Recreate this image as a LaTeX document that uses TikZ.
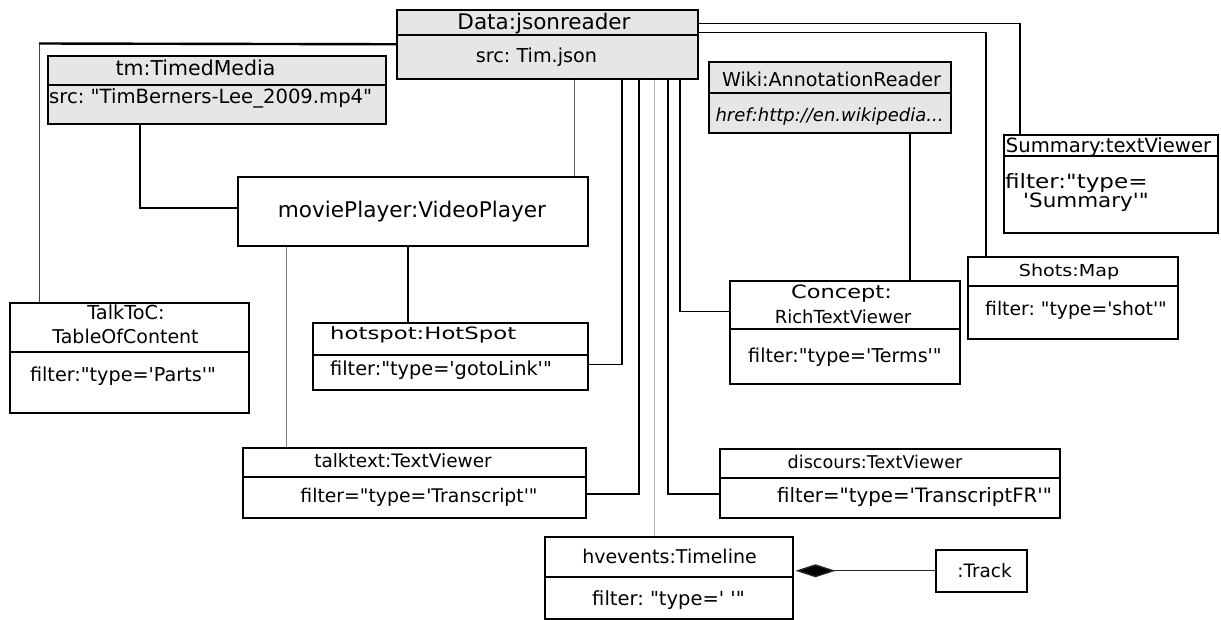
\documentclass[tikz,border=0pt]{standalone}
\usepackage{fontspec}
\usepackage{graphicx}
\setmainfont{DejaVu Sans}[Ligatures=TeXOff]
\usetikzlibrary{arrows.meta}
\definecolor{boxgray}{RGB}{230,230,230}
% text of a given size, optionally widened horizontally
\newcommand\tx[3]{\scalebox{#2}[1]{\fontsize{#1}{#1}\selectfont\frenchspacing #3}}
\begin{document}
\begin{tikzpicture}[x=1pt,y=-1pt,
  objbox/.style={draw=black, line width=1.5pt, inner sep=0pt, anchor=north west},
  divider/.style={draw=black, line width=1.5pt},
  lbl/.style={anchor=base, inner sep=0pt},
  lblw/.style={anchor=base west, inner sep=0pt},
  heavy/.style={draw=black, line width=2.4pt},
  medium/.style={draw=black, line width=1.3pt},
  grayline/.style={draw=black!60, line width=1pt},
  paleline/.style={draw=black!50, line width=0.9pt},
  faint/.style={draw=black!30, line width=0.9pt}]
\useasboundingbox (0,0) rectangle (1221,619);

% ---- object boxes ----
\node[objbox, fill=boxgray, minimum width=301pt, minimum height=69pt] (data) at (396,9) {};
\node[objbox, fill=boxgray, minimum width=338pt, minimum height=68pt] (tm) at (47,55) {};
\node[objbox, minimum width=350pt, minimum height=69pt] (mp) at (237,176) {};
\node[objbox, minimum width=239pt, minimum height=110pt] (toc) at (9,302) {};
\node[objbox, minimum width=275pt, minimum height=67pt] (hot) at (312,322) {};
\node[objbox, minimum width=343pt, minimum height=70pt] (talk) at (242,447) {};
\node[objbox, minimum width=340pt, minimum height=69pt] (disc) at (719,448) {};
\node[objbox, minimum width=248pt, minimum height=82pt] (hv) at (544,536) {};
\node[objbox, minimum width=91pt, minimum height=42pt] (track) at (935,549) {};
\node[objbox, fill=boxgray, minimum width=242pt, minimum height=71pt] (wiki) at (708,61) {};
\node[objbox, minimum width=214pt, minimum height=98pt] (sum) at (1003,134) {};
\node[objbox, minimum width=210pt, minimum height=82pt] (shots) at (967,256) {};
\node[objbox, minimum width=230pt, minimum height=103pt] (concept) at (729,280) {};

% ---- compartment dividers ----
\draw[divider] ([yshift=-26pt]data.north west) -- ([yshift=-26pt]data.north east);
\draw[divider] ([yshift=-30pt]tm.north west) -- ([yshift=-30pt]tm.north east);
\draw[divider] ([yshift=-50pt]toc.north west) -- ([yshift=-50pt]toc.north east);
\draw[divider, line width=2.5pt] ([yshift=-33pt]hot.north west) -- ([yshift=-33pt]hot.north east);
\draw[divider] ([yshift=-30pt]talk.north west) -- ([yshift=-30pt]talk.north east);
\draw[divider] ([yshift=-30pt]disc.north west) -- ([yshift=-30pt]disc.north east);
\draw[divider] ([yshift=-41pt]hv.north west) -- ([yshift=-41pt]hv.north east);
\draw[divider] ([yshift=-32pt]wiki.north west) -- ([yshift=-32pt]wiki.north east);
\draw[divider] ([yshift=-22pt]sum.north west) -- ([yshift=-22pt]sum.north east);
\draw[divider] ([yshift=-30pt]shots.north west) -- ([yshift=-30pt]shots.north east);
\draw[divider] ([yshift=-49pt]concept.north west) -- ([yshift=-49pt]concept.north east);

% ---- labels ----
\node[lbl] (dataT) at (544,29) {\tx{21.5}{1}{Data:jsonreader}};
\node[lbl] (dataS) at (536.5,62) {\tx{19.2}{1}{src: Tim.json}};
\node[lbl] (tmT) at (195.5,75) {\tx{20.5}{1}{tm:TimedMedia}};
\node[lblw] (tmS) at (49,103) {\tx{19.6}{1}{src: "TimBerners-Lee\_2009.mp4"}};
\node[lbl] (mpT) at (412,217) {\tx{21.6}{1}{moviePlayer:VideoPlayer}};
\node[lbl] (tocA) at (126,319) {\tx{19.3}{1}{TalkToC:}};
\node[lbl] (tocB) at (125.5,343) {\tx{19}{1}{TableOfContent}};
\node[lbl] (tocF) at (123,381) {\tx{19.2}{1}{filter:"type='Parts'"}};
\node[lblw] (hotT) at (330,339) {\tx{17}{1.34}{hotspot:HotSpot}};
\node[lblw] (hotF) at (330,375) {\tx{19.3}{1}{filter:"type='gotoLink'"}};
\node[lbl] (talkT) at (403,467) {\tx{18.5}{1}{talktext:TextViewer}};
\node[lbl] (talkF) at (419,502) {\tx{18.8}{1}{filter="type='Transcript'"}};
\node[lbl] (discT) at (875,468) {\tx{17.6}{1}{discours:TextViewer}};
\node[lbl] (discF) at (914.5,502) {\tx{19.8}{1}{filter="type='TranscriptFR'"}};
\node[lbl] (hvT) at (669.5,563) {\tx{19}{1}{hvevents:Timeline}};
\node[lbl] (hvF) at (668.5,605) {\tx{19.5}{1}{filter: "type=' '"}};
\node[lbl] (trackT) at (984.5,577) {\tx{18.4}{1}{:Track}};
\node[lbl] (wikiT) at (831.5,86) {\tx{19.1}{1}{Wiki:AnnotationReader}};
\node[lbl] (wikiH) at (829.5,121) {\tx{18}{1}{\itshape href:http://en.wikipedia...}};
\node[lbl] (sumT) at (1108.5,152) {\tx{19.6}{1}{Summary:textViewer}};
\node[lblw] (sumA) at (1005,188) {\tx{19.7}{1.17}{filter:"type=}};
\node[lblw] (sumB) at (1023,207) {\tx{19.7}{1.09}{'Summary'"}};
\node[lbl] (shotsT) at (1069,276) {\tx{16.5}{1.16}{Shots:Map}};
\node[lbl] (shotsF) at (1076,315) {\tx{18.8}{1}{filter: "type='shot'"}};
\node[lbl] (conA) at (841.5,298) {\tx{18.3}{1.23}{Concept:}};
\node[lbl] (conB) at (843,323) {\tx{18}{1}{RichTextViewer}};
\node[lbl] (conF) at (845,362) {\tx{19.1}{1}{filter:"type='Terms'"}};

% ---- connector columns ----
\coordinate (k140) at (140,0);
\coordinate (k286) at (286,0);
\coordinate (k408) at (408,0);
\coordinate (k574) at (574,0);
\coordinate (k622) at (622,0);
\coordinate (k639) at (639,0);
\coordinate (k654) at (654,0);
\coordinate (k668) at (668,0);
\coordinate (k680) at (680,0);
\coordinate (k910) at (910,0);
\coordinate (k986) at (986,0);
\coordinate (k1020) at (1020,0);
\coordinate (tocbend) at (39,43.5);

% ---- connectors ----
\draw[heavy] (data.west) -- (tocbend);
\draw[draw=black!75, line width=1pt] (tocbend) -- (toc.north -| tocbend);
\draw[heavy] (tm.south -| k140) |- ([yshift=3.5pt]mp.west);
\draw[grayline] (data.south -| k574) -- (mp.north -| k574);
\draw[paleline] (mp.south -| k286) -- (talk.north -| k286);
\draw[medium] (mp.south -| k408) -- (hot.north -| k408);
\draw[medium] (data.south -| k622) |- ([yshift=-8.5pt]hot.east);
\draw[heavy] (data.south -| k639) |- ([yshift=-11pt]talk.east);
\draw[faint] (data.south -| k654) -- (hv.north -| k654);
\draw[heavy] (data.south -| k668) |- ([yshift=-11pt]disc.west);
\draw[medium] (data.south -| k680) |- ([yshift=20.5pt]concept.west);
\draw[medium] (wiki.south -| k910) -- (concept.north -| k910);
\draw[medium] ([yshift=20.5pt]data.east) -| (sum.north -| k1020);
\draw[medium] ([yshift=11.5pt]data.east) -| (shots.north -| k986);
\draw[medium, draw=black!85, -{Diamond[length=40pt,width=13pt,fill=black]}, shorten >=2pt]
  (track.west) -- (hv.east |- track.west);
\end{tikzpicture}
\end{document}
